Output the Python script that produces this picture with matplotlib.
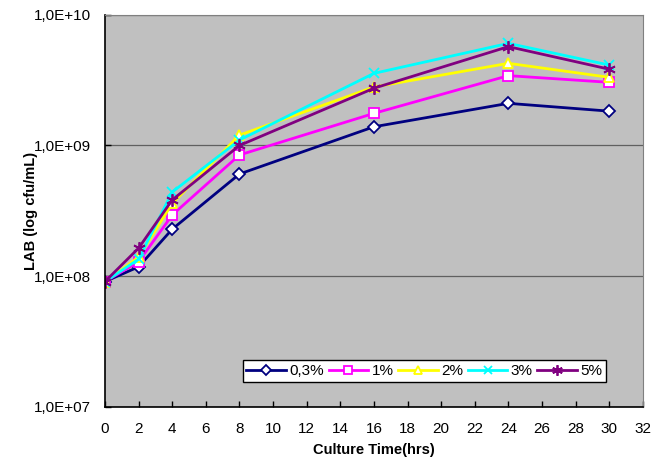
import matplotlib.pyplot as plt
from matplotlib.ticker import FixedLocator, NullLocator

# culture time (hrs) and LAB counts (cfu/mL) per concentration
hours = [0, 2, 4, 8, 16, 24, 30]
lab_03 = [9.1e7, 1.18e8, 2.29e8, 6.05e8, 1.39e9, 2.10e9, 1.83e9]
lab_1 = [9.1e7, 1.29e8, 2.94e8, 8.46e8, 1.76e9, 3.42e9, 3.04e9]
lab_2 = [9.1e7, 1.40e8, 3.60e8, 1.20e9, 2.80e9, 4.25e9, 3.32e9]
lab_3 = [9.1e7, 1.35e8, 4.40e8, 1.10e9, 3.56e9, 6.04e9, 4.12e9]
lab_5 = [9.1e7, 1.64e8, 3.83e8, 1.00e9, 2.74e9, 5.70e9, 3.83e9]

labels = ['0,3%', '1%', '2%', '3%', '5%']
y_ticks = [1e7, 1e8, 1e9, 1e10]
y_ticklabels = ['1,0E+07', '1,0E+08', '1,0E+09', '1,0E+10']

tick_font = 'Liberation Sans'

series = [
    (lab_03, '#000080', 'D', 'white', 6.5),
    (lab_1, '#ff00ff', 's', 'white', 7),
    (lab_2, '#ffff00', '^', 'white', 7),
    (lab_3, '#00ffff', 'x', '#00ffff', 7),
    (lab_5, '#800080', (6, 2, 0), '#800080', 9),
]

fig = plt.figure(figsize=(6.52, 4.67), dpi=100)
ax = fig.add_axes([0.161, 0.1285, 0.825, 0.840])
ax.set_facecolor('#c0c0c0')

for (vals, color, marker, face, ms), label in zip(series, labels):
    ax.plot(hours, vals, color=color, lw=2, marker=marker, ms=ms,
            markerfacecolor=face, markeredgecolor=color, mew=1.3,
            label=label)

ax.set_yscale('log')
ax.set_ylim(1e7, 1e10)
ax.set_xlim(0, 32)
ax.yaxis.set_major_locator(FixedLocator(y_ticks))
ax.yaxis.set_minor_locator(NullLocator())
ax.set_yticklabels(y_ticklabels)
ax.set_xticks(range(0, 33, 2))
ax.grid(axis='y', color='#606060', lw=0.9)
ax.set_axisbelow(True)

ax.tick_params(axis='both', direction='in', length=4, width=1, labelsize=11,
               color='black')
ax.tick_params(axis='x', pad=11)
ax.tick_params(axis='y', pad=10)
for t in ax.get_xticklabels() + ax.get_yticklabels():
    t.set_family(tick_font)

for side in ['left', 'bottom']:
    ax.spines[side].set_color('black')
    ax.spines[side].set_linewidth(1.2)
for side in ['top', 'right']:
    ax.spines[side].set_color('#808080')

ax.set_xlabel('Culture Time(hrs)', fontsize=10.5, fontweight='bold',
              family='Liberation Sans', labelpad=5)
ax.set_ylabel('LAB (log cfu/mL)', fontsize=10.5, fontweight='bold',
              family='Liberation Sans')
ax.yaxis.set_label_coords(-0.125, 0.5)

leg = ax.legend(loc='lower left', bbox_to_anchor=(0.256, 0.064, 0.675, 0.064),
                mode='expand', ncol=5, frameon=True, fancybox=False,
                prop={'family': tick_font, 'size': 11},
                handlelength=2.6, handletextpad=0.2,
                columnspacing=0.8, borderpad=0.25, borderaxespad=0,
                markerscale=0.85)
leg.get_frame().set_edgecolor('black')
leg.get_frame().set_facecolor('white')
leg.get_frame().set_alpha(1)
leg.get_frame().set_linewidth(1)

plt.savefig('out.png', dpi=100)
